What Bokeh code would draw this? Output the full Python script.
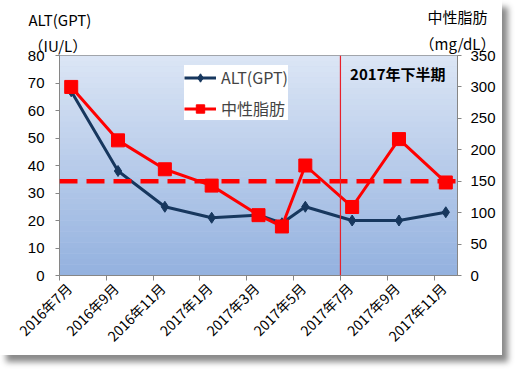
from bokeh.plotting import figure
from bokeh.models import (Range1d, LinearAxis, FixedTicker, Span, Label, Legend,
                          LegendItem, BoxAnnotation, ColumnDataSource, Title)
from bokeh.embed import file_html
from bokeh.resources import INLINE
import math

# ---- data ----
months = ["2016-07", "2016-09", "2016-11", "2017-01", "2017-03",
          "2017-04", "2017-05", "2017-07", "2017-09", "2017-11"]
alt_gpt = [67, 38, 25, 21, 22, 19, 25, 20, 20, 23]
triglyceride = [300, 215, 169, 143, 96, 78, 175, 109, 217, 148]
tick_months = ["2016-07", "2016-09", "2016-11", "2017-01", "2017-03",
               "2017-05", "2017-07", "2017-09", "2017-11"]
tick_labels = ["2016年7月", "2016年9月", "2016年11月", "2017年1月", "2017年3月",
               "2017年5月", "2017年7月", "2017年9月", "2017年11月"]
tg_reference = 150
half_start = "2017-07"
x_end_month = "2017-12"
left_title = "ALT(GPT)\n （IU/L）"
right_title = "中性脂肪\n（mg/dL）"


def month_index(s):
    y, m = s.split("-")
    return (int(y) - 2016) * 12 + int(m) - 7


xs = [month_index(m) + 0.5 for m in months]
src = ColumnDataSource(dict(x=xs, alt=alt_gpt, tg=triglyceride))

JP = "Noto Sans CJK JP"
LAT = "Liberation Sans"
x_end = month_index(x_end_month)

p = figure(width=502, height=355, output_backend="svg", toolbar_location=None,
           x_range=Range1d(0, x_end), y_range=Range1d(0, 80),
           min_border_left=59, min_border_right=45, min_border_top=55, min_border_bottom=79,
           background_fill_color="#c4d4ee", border_fill_color="white",
           outline_line_color="#7f7f7f", outline_line_width=1,
           styles={"box-shadow": "6px 7px 6px #8a8a8a"})
p.extra_y_ranges = {"right": Range1d(0, 350)}
p.xgrid.visible = False
p.ygrid.visible = False

# gradient background
n = 40
top_c = (0xdc, 0xe6, 0xf5)
bot_c = (0x93, 0xb1, 0xdf)
for i in range(n):
    t = (i + 0.5) / n
    c = tuple(int(round(bot_c[k] + (top_c[k] - bot_c[k]) * t)) for k in range(3))
    p.add_layout(BoxAnnotation(bottom=80 * i / n, top=80 * (i + 1) / n + 0.05,
                               fill_color="#%02x%02x%02x" % c, fill_alpha=1,
                               line_alpha=0, level="underlay"))

# axes styling
ax_col = "#868686"
tick_pos = [month_index(m) for m in tick_months]
xa = p.xaxis[0]
xa.ticker = FixedTicker(ticks=tick_pos)
xa.major_label_overrides = {t: "" for t in tick_pos}
xa.major_label_text_font_size = "1px"
xa.major_label_standoff = 0
xa.axis_line_color = ax_col
xa.major_tick_line_color = ax_col
xa.major_tick_out = 5
xa.major_tick_in = 0
xa.minor_tick_line_color = None

label_shift = 0.4
lab_pos = [t + label_shift for t in tick_pos]
xl = LinearAxis(ticker=FixedTicker(ticks=lab_pos))
xl.major_label_overrides = {t: l for t, l in zip(lab_pos, tick_labels)}
xl.major_label_orientation = math.pi / 4
xl.major_label_text_font = JP
xl.major_label_text_font_size = "14px"
xl.major_label_text_color = "black"
xl.major_label_standoff = 5
xl.major_tick_out = 0
xl.major_tick_in = 0
xl.axis_line_color = None
xl.major_tick_line_color = None
xl.minor_tick_line_color = None
p.add_layout(xl, "below")

# left-axis title: left-aligned title band right above the frame
lt = Title(text=left_title, align="left", offset=-31, standoff=-4, vertical_align="top",
           text_font=JP, text_font_size="15px", text_font_style="normal",
           text_line_height=1.25, text_color="black")
p.add_layout(lt, "above")

# right-axis title: label-only axis, pulled down into the same band
ta = LinearAxis(ticker=FixedTicker(ticks=[x_end]))
ta.major_label_overrides = {x_end: right_title}
ta.major_label_text_font = JP
ta.major_label_text_font_size = "15px"
ta.major_label_text_line_height = 1.25
ta.major_label_text_color = "black"
ta.major_label_standoff = -43
ta.major_tick_out = 0
ta.major_tick_in = 0
ta.axis_line_color = None
ta.major_tick_line_color = None
ta.minor_tick_line_color = None
p.add_layout(ta, "above")

ya = p.yaxis[0]
ya.ticker = FixedTicker(ticks=list(range(0, 81, 10)))
ya.major_label_text_font = LAT
ya.major_label_text_font_size = "15px"
ya.major_label_text_color = "black"
ya.major_label_standoff = 11
ya.axis_line_color = ax_col
ya.major_tick_line_color = ax_col
ya.major_tick_out = 4
ya.major_tick_in = 0
ya.minor_tick_line_color = None

ra = LinearAxis(y_range_name="right", ticker=FixedTicker(ticks=list(range(0, 351, 50))))
ra.major_label_text_font = LAT
ra.major_label_text_font_size = "15px"
ra.major_label_text_color = "black"
ra.major_label_standoff = 9
ra.axis_line_color = ax_col
ra.major_tick_line_color = ax_col
ra.major_tick_out = 4
ra.major_tick_in = 0
ra.minor_tick_line_color = None
p.add_layout(ra, "right")

# reference lines
p.add_layout(Span(location=tg_reference, dimension="width", y_range_name="right",
                  line_color="#ff0000", line_width=4.5, line_dash="18 9"))
p.add_layout(Span(location=month_index(half_start), dimension="height",
                  line_color="#e8202a", line_width=1.2))

# series
navy = "#17375e"
red = "#ff0000"
l1 = p.line("x", "alt", source=src, line_color=navy, line_width=3)
s1 = p.scatter("x", "alt", source=src, marker="diamond", size=11,
               fill_color=navy, line_color=navy)
l2 = p.line("x", "tg", source=src, y_range_name="right", line_color=red, line_width=3)
s2 = p.scatter("x", "tg", source=src, y_range_name="right", marker="square", size=13,
               fill_color=red, line_color=red)

legend = Legend(items=[LegendItem(label="ALT(GPT)", renderers=[l1, s1]),
                       LegendItem(label="中性脂肪", renderers=[l2, s2])],
                location=(125, 155), background_fill_color="white", background_fill_alpha=1,
                border_line_color=None, label_text_font=JP, label_text_font_size="16px",
                glyph_width=32, glyph_height=21, label_height=21, spacing=7,
                padding=6, label_standoff=5)
p.add_layout(legend)

p.add_layout(Label(x=14.45, y=73.5, text="2017年下半期", text_align="center",
                   text_baseline="middle", text_font=JP, text_font_size="15px",
                   text_font_style="bold", text_color="black"))

open("out.html", "w").write(file_html(p, INLINE))
